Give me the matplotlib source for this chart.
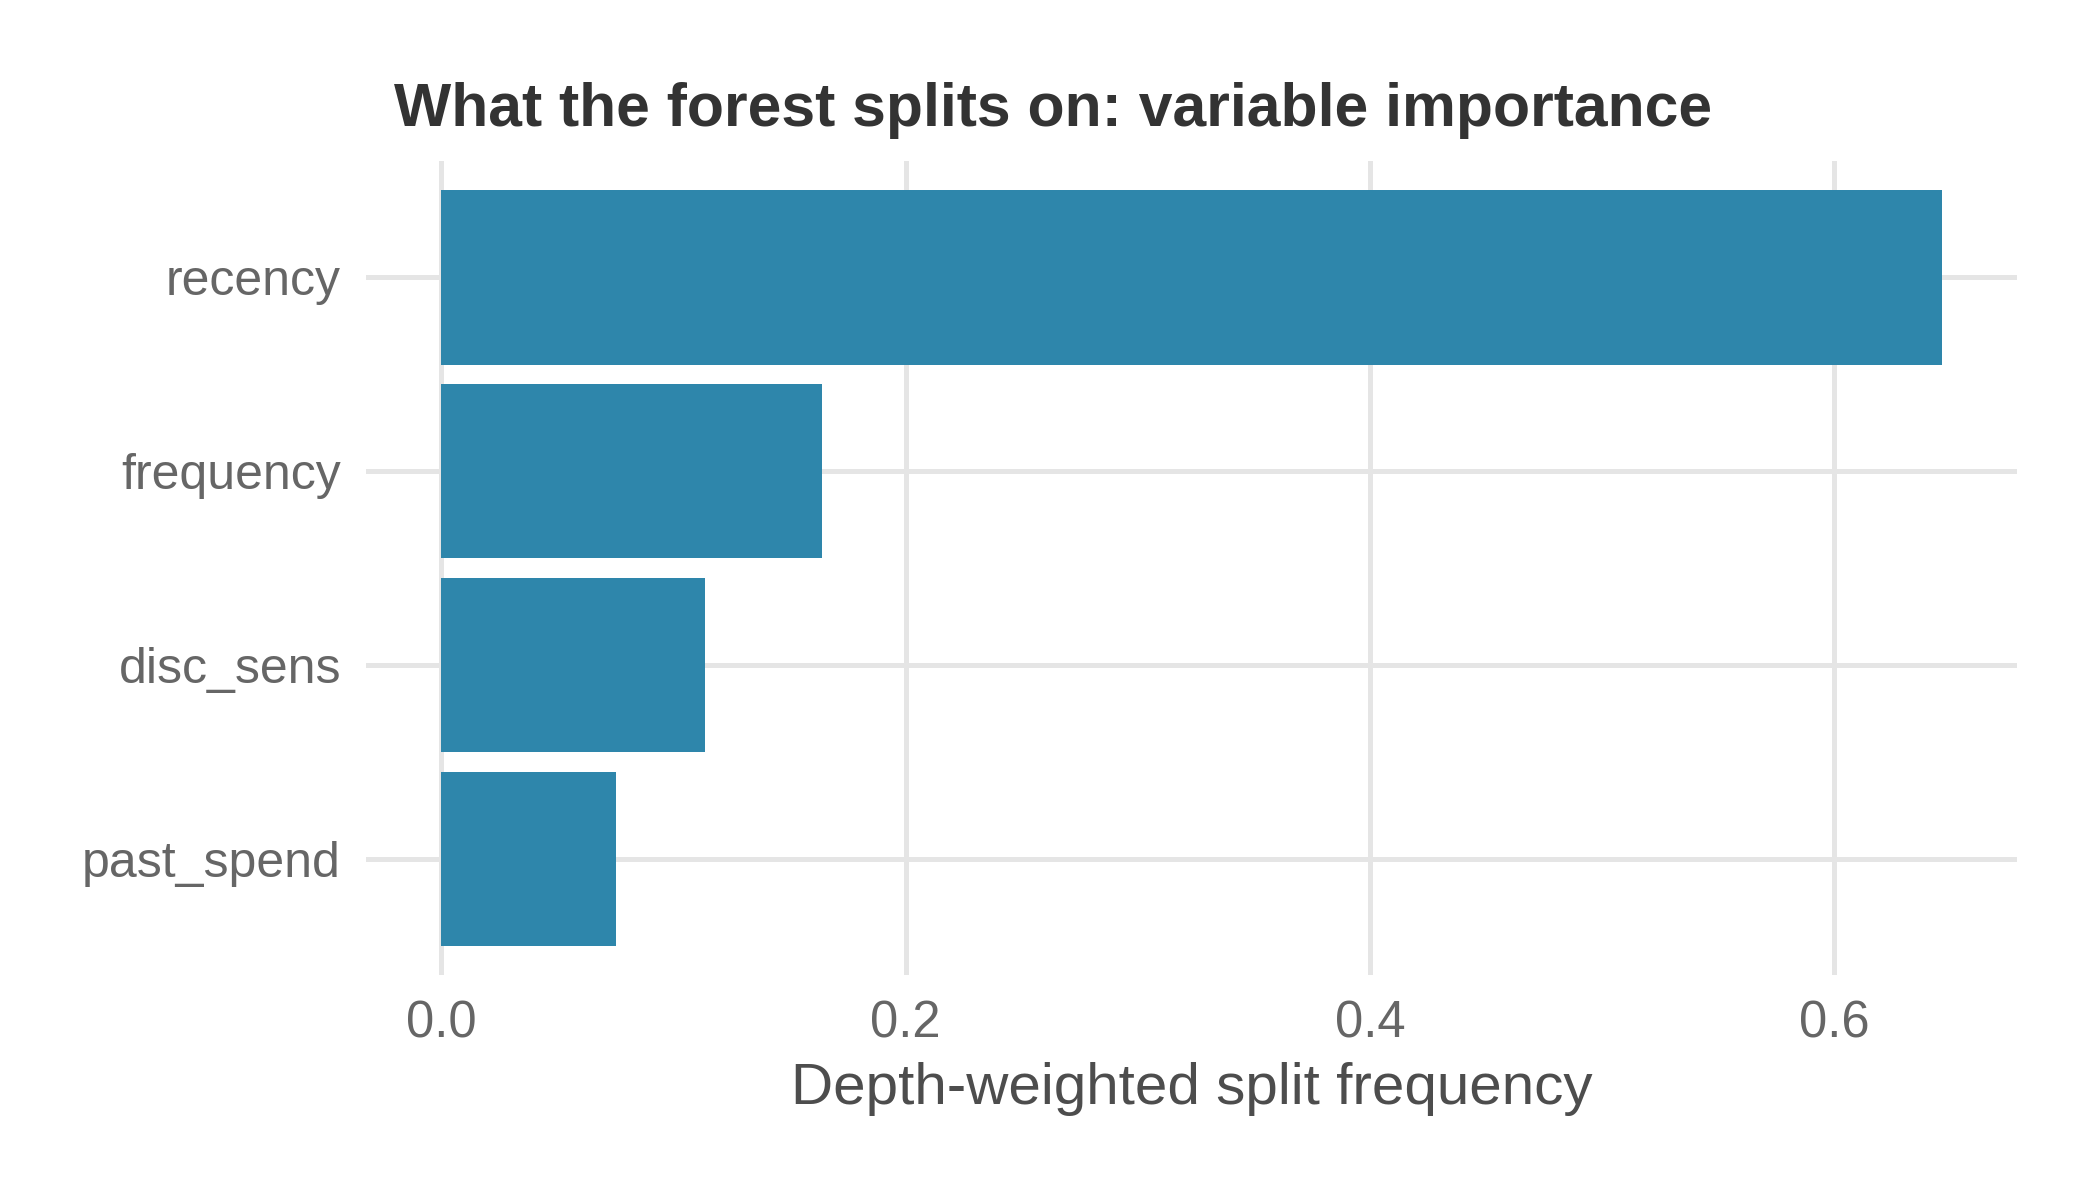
import matplotlib
matplotlib.use("Agg")
import matplotlib.pyplot as plt

# variable importance values
features = ["past_spend", "disc_sens", "frequency", "recency"]
importance = [0.0754, 0.1137, 0.1641, 0.6463]
x_ticks = [0.0, 0.2, 0.4, 0.6]
x_tick_labels = ["0.0", "0.2", "0.4", "0.6"]

plt.rcParams['font.family'] = ['Liberation Sans', 'DejaVu Sans']

fig = plt.figure(figsize=(7, 4), dpi=300)
ax = fig.add_axes([366 / 2100, 1 - 975 / 1200, (2017 - 366) / 2100, (975 - 161) / 1200])

ax.barh(range(len(features)), importance, height=0.9, color="#2E86AB", zorder=3)

# ggplot style expansion
xmax = max(importance)
ax.set_xlim(-0.05 * xmax, 1.05 * xmax)
ax.set_ylim(-0.6, len(features) - 0.4)

ax.set_xticks(x_ticks)
ax.set_xticklabels(x_tick_labels)
ax.set_yticks(range(len(features)))
ax.set_yticklabels(features)

ax.grid(True, color="#E5E5E5", linewidth=1.2, zorder=0)
ax.set_axisbelow(True)
for s in ax.spines.values():
    s.set_visible(False)
ax.tick_params(length=0, labelsize=12.0, labelcolor="#666666", pad=6)
ax.tick_params(axis="x", labelsize=12.2)

ax.set_xlabel("Depth-weighted split frequency", fontsize=14, color="#4D4D4D", labelpad=3)

fig.text(394 / 2100, 1 - 126 / 1200, "What the forest splits on: variable importance",
         fontsize=14.55, fontweight="bold", color="#333333", va="baseline", ha="left")

fig.savefig("out.png", dpi=300, facecolor="white")
